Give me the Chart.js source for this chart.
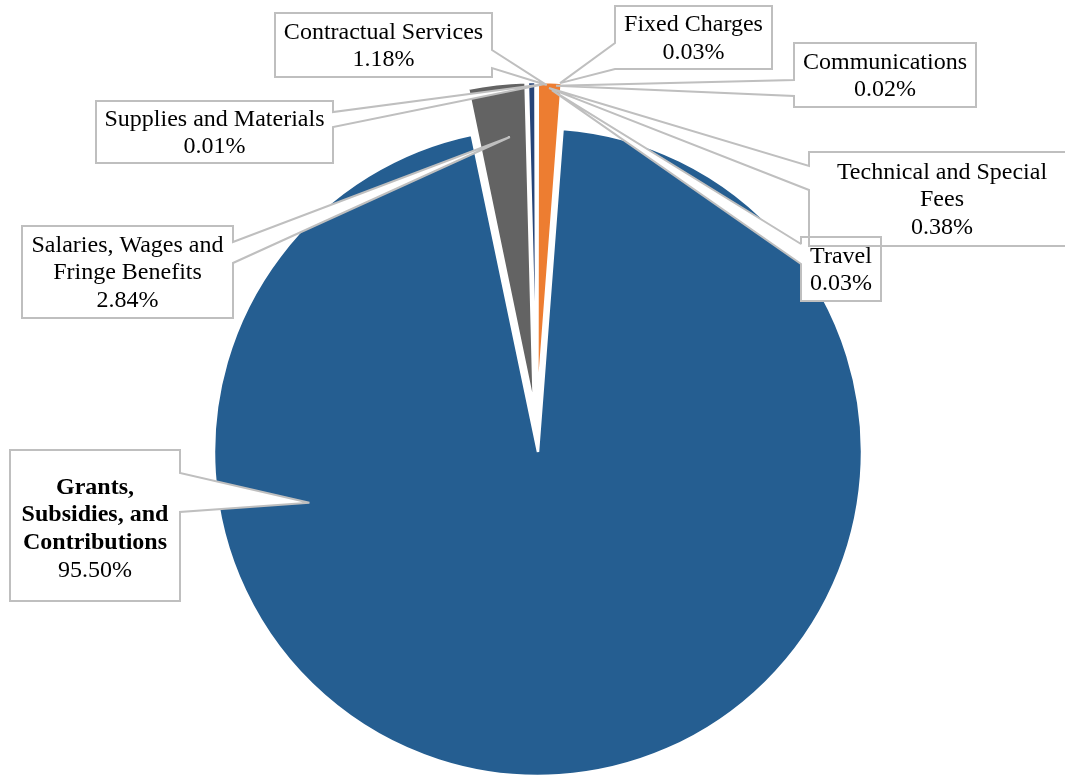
<!DOCTYPE html>
<html><head><meta charset="utf-8">
<script src="https://cdn.jsdelivr.net/npm/chart.js@4.4.1/dist/chart.umd.min.js"></script>
<style>html,body{margin:0;padding:0;background:#fff;} #wrap{width:1065px;height:778px;position:relative;}</style>
</head><body><div id="wrap"><canvas id="c" width="1065" height="778"></canvas></div>
<script>
// ---- data ----
const categories = ["Salaries, Wages and Fringe Benefits", "Technical and Special Fees", "Communications", "Travel", "Contractual Services", "Supplies and Materials", "Grants, Subsidies, and Contributions", "Fixed Charges"];
const values = [2.84, 0.38, 0.02, 0.03, 1.18, 0.01, 95.50, 0.03];
const sliceColors = ["#636363", "#264478", "#A5A5A5", "#FFC000", "#ED7D31", "#70AD47", "#255E91", "#9E480E"];
const boldNames = [false, false, false, false, false, false, true, false];

// ---- styling / layout ----
const EXPLODE = 23;          // px each slice is pulled out along its bisector
const FONT = '"Liberation Serif", "Times New Roman", serif';
const LINE_H = 27.5;

// callout boxes, pointer base on a box edge, pointer tip in polar terms of the pie
const callouts = [
  {index: 6, box: [10, 450, 180, 601], side: 'right', base: [473, 512], tipAngle: 252, tipR: 0.737, textDy: 2.5},
  {index: 0, box: [22, 226, 233, 318], side: 'right', base: [242, 263], tipAngle: 354.8, tipR: 0.905, textDy: 0},
  {index: 5, box: [96, 101, 333, 163], side: 'right', base: [112, 127], tipAngle: 1.4, tipR: 1.065, textDy: 0},
  {index: 4, box: [275, 13, 492, 77], side: 'right', base: [50, 68], tipAngle: 1.7, tipR: 1.062, textDy: 0},
  {index: 7, box: [615, 6, 772, 69], side: 'left', base: [43, 69], tipAngle: 3.9, tipR: 1.07, textDy: 0},
  {index: 2, box: [794, 43, 976, 107], side: 'left', base: [80, 96], tipAngle: 3.25, tipR: 1.061, textDy: 0},
  {index: 1, box: [809, 152, 1075, 246], side: 'left', base: [166, 190], tipAngle: 2.1, tipR: 1.053, textDy: 0},
  {index: 3, box: [801, 237, 881, 301], side: 'left', base: [244, 264], tipAngle: 2.6, tipR: 1.047, textDy: 0}
];

function calloutPoints(b, side, base, tip) {
  const [x0, y0, x1, y1] = b;
  const pts = [[x0, y0]];
  if (side === 'top') pts.push([base[0], y0], tip, [base[1], y0]);
  pts.push([x1, y0]);
  if (side === 'right') pts.push([x1, base[0]], tip, [x1, base[1]]);
  pts.push([x1, y1]);
  if (side === 'bottom') pts.push([base[1], y1], tip, [base[0], y1]);
  pts.push([x0, y1]);
  if (side === 'left') pts.push([x0, base[1]], tip, [x0, base[0]]);
  return pts;
}

function wrap(ctx, text, maxW) {
  const words = text.split(' ');
  const lines = [];
  let cur = '';
  words.forEach(w => {
    const t = cur ? cur + ' ' + w : w;
    if (ctx.measureText(t).width > maxW && cur) { lines.push(cur); cur = w; }
    else cur = t;
  });
  if (cur) lines.push(cur);
  return lines;
}

// draws every arc element of the pie, pulled out along its own bisector
const explodePlugin = {
  id: 'explode',
  beforeDatasetDraw(chart, args) {
    const ctx = chart.ctx;
    args.meta.data.forEach(arc => {
      const mid = (arc.startAngle + arc.endAngle) / 2;
      ctx.save();
      ctx.translate(Math.cos(mid) * EXPLODE, Math.sin(mid) * EXPLODE);
      arc.draw(ctx);
      ctx.restore();
    });
    return false;
  }
};

const calloutPlugin = {
  id: 'callouts',
  afterDatasetsDraw(chart) {
    const ctx = chart.ctx;
    const meta = chart.getDatasetMeta(0);
    const a0 = meta.data[0];
    const cx = a0.x, cy = a0.y;
    const R = a0.outerRadius;
    const shapes = callouts.map(c => {
      const a = c.tipAngle * Math.PI / 180;
      const tip = [cx + Math.sin(a) * c.tipR * R, cy - Math.cos(a) * c.tipR * R];
      return calloutPoints(c.box, c.side, c.base, tip);
    });
    ctx.save();
    ctx.lineJoin = 'miter';
    ctx.miterLimit = 2;
    shapes.forEach(pts => {
      ctx.beginPath();
      pts.forEach((p, i) => i ? ctx.lineTo(p[0], p[1]) : ctx.moveTo(p[0], p[1]));
      ctx.closePath();
      ctx.fillStyle = '#FFFFFF';
      ctx.fill();
    });
    shapes.forEach(pts => {
      ctx.beginPath();
      pts.forEach((p, i) => i ? ctx.lineTo(p[0], p[1]) : ctx.moveTo(p[0], p[1]));
      ctx.closePath();
      ctx.strokeStyle = '#BFBFBF';
      ctx.lineWidth = 2;
      ctx.stroke();
    });
    ctx.fillStyle = '#000000';
    ctx.textAlign = 'center';
    ctx.textBaseline = 'middle';
    callouts.forEach(c => {
      const [x0, y0, x1, y1] = c.box;
      const bold = boldNames[c.index];
      ctx.font = (bold ? 'bold ' : '') + '24px ' + FONT;
      const nameLines = wrap(ctx, categories[c.index], (x1 - x0) - 14);
      const pct = values[c.index].toFixed(2) + '%';
      const all = nameLines.map(t => ({t, bold})).concat([{t: pct, bold: false}]);
      const mx = (x0 + x1) / 2, my = (y0 + y1) / 2 + (c.textDy || 0);
      const startY = my - (all.length - 1) * LINE_H / 2;
      all.forEach((l, i) => {
        ctx.font = (l.bold ? 'bold ' : '') + '24px ' + FONT;
        ctx.fillText(l.t, mx, startY + i * LINE_H + 1);
      });
    });
    ctx.restore();
  }
};

new Chart(document.getElementById('c'), {
  type: 'pie',
  data: {
    labels: categories,
    datasets: [{
      data: values,
      backgroundColor: sliceColors,
      borderColor: '#FFFFFF',
      borderWidth: 2.5,
      radius: 324,
      rotation: 348.3
    }]
  },
  options: {
    responsive: false,
    animation: false,
    devicePixelRatio: 1,
    rotation: 348.3,
    layout: {padding: {left: 8, right: 0, top: 80, bottom: 0}},
    plugins: {legend: {display: false}, tooltip: {enabled: false}, title: {display: false}}
  },
  plugins: [explodePlugin, calloutPlugin]
});
</script>
</body></html>
